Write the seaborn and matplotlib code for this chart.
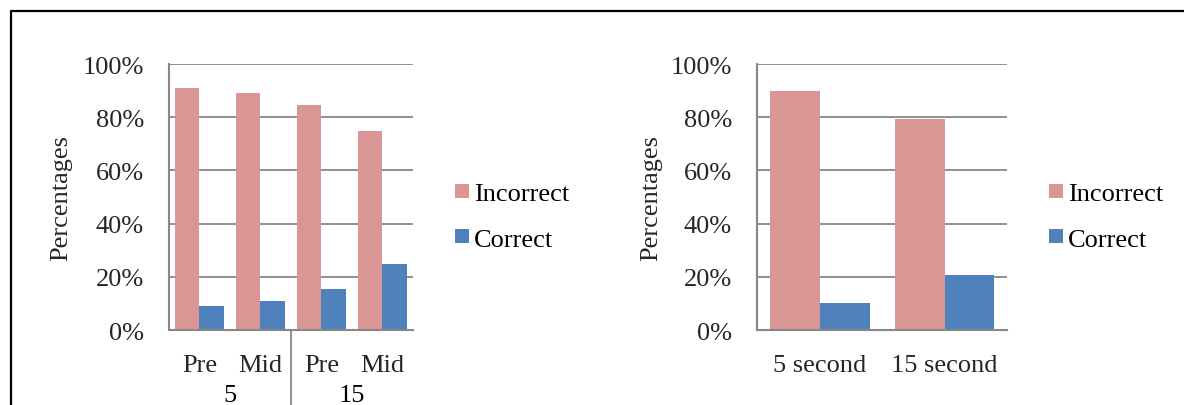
import matplotlib
matplotlib.use("Agg")
import matplotlib.pyplot as plt
import matplotlib.transforms as mtransforms
from matplotlib.lines import Line2D
from matplotlib.ticker import FuncFormatter
import pandas as pd
import seaborn as sns

# Answers by test phase, grouped by presentation time (seconds)
phase_groups = ["5", "5", "15", "15"]
phases = ["Pre", "Mid", "Pre", "Mid"]
phase_incorrect = [91.1, 89.1, 84.5, 75.0]
phase_correct = [8.9, 10.9, 15.5, 25.0]

# Answers by presentation interval
intervals = ["5 second", "15 second"]
interval_incorrect = [90.0, 79.5]
interval_correct = [10.0, 20.5]

answer_labels = ["Incorrect", "Correct"]
answer_colors = {"Incorrect": "#D99694", "Correct": "#4F81BD"}
y_ticks = [0, 20, 40, 60, 80, 100]

AXIS_GREY = "#878787"
FS = 19

sns.set_style("white")
plt.rcParams["font.family"] = ["Liberation Serif", "DejaVu Serif"]
plt.rcParams["text.color"] = "black"

phase_keys = [f"{g}|{p}" for g, p in zip(phase_groups, phases)]
df_phase = pd.DataFrame({
    "slot": phase_keys * 2,
    "Answer": ["Incorrect"] * len(phase_keys) + ["Correct"] * len(phase_keys),
    "pct": phase_incorrect + phase_correct,
})
df_interval = pd.DataFrame({
    "slot": intervals * 2,
    "Answer": ["Incorrect"] * len(intervals) + ["Correct"] * len(intervals),
    "pct": interval_incorrect + interval_correct,
})

fig = plt.figure(figsize=(11.84, 4.06), dpi=100)
ax1 = fig.add_axes([0.1427, 0.1847, 0.2061, 0.6552])
ax2 = fig.add_axes([0.6394, 0.1847, 0.2111, 0.6552])


def draw_panel(ax, df, order, tick_labels, label_x, legend_x):
    sns.barplot(data=df, x="slot", y="pct", hue="Answer", order=order,
                hue_order=answer_labels, palette=answer_colors, width=0.8,
                saturation=1, linewidth=0, errorbar=None, ax=ax)
    n = len(order)
    ax.set_xlim(-0.5, n - 0.5)
    ax.set_ylim(0, 100)
    ax.set_yticks(y_ticks)
    ax.yaxis.set_major_formatter(FuncFormatter(lambda v, _: f"{v:.0f}%"))
    ax.set_xticks(range(n))
    ax.set_xticklabels(tick_labels)
    ax.set_xticks([i - 0.5 for i in range(n + 1)], minor=True)
    ax.tick_params(axis="x", which="major", length=0, pad=17, labelsize=FS)
    ax.tick_params(axis="x", which="minor", length=8, width=1.3,
                   color=AXIS_GREY, direction="out")
    ax.tick_params(axis="y", length=8, width=1.3, color=AXIS_GREY,
                   direction="out", pad=10, labelsize=FS)
    ax.set_xlabel("")
    ax.set_ylabel("Percentages", fontsize=FS)
    ax.yaxis.set_label_coords(label_x, 0.5)
    ax.yaxis.grid(True, color=AXIS_GREY, linewidth=1.3)
    ax.set_axisbelow(True)
    for side in ("top", "right"):
        ax.spines[side].set_visible(False)
    for side in ("left", "bottom"):
        ax.spines[side].set_color(AXIS_GREY)
        ax.spines[side].set_linewidth(1.5)
    handles, labels = ax.get_legend_handles_labels()
    ax.legend(handles, labels, loc="center left",
              bbox_to_anchor=(legend_x, 0.425), frameon=False, fontsize=FS,
              borderpad=0, borderaxespad=0, handlelength=0.53,
              handleheight=0.45, handletextpad=0.2, labelspacing=0.89)


draw_panel(ax1, df_phase, phase_keys, phases, -0.398, 1.172)
draw_panel(ax2, df_interval, intervals, intervals, -0.38, 1.168)

# Second tier of category labels: presentation time groups
blend = mtransforms.blended_transform_factory(ax1.transData, ax1.transAxes)
group_names = list(dict.fromkeys(phase_groups))
for gi, name in enumerate(group_names):
    idx = [i for i, g in enumerate(phase_groups) if g == name]
    center = (idx[0] + idx[-1]) / 2
    ax1.text(center, -0.245, name, transform=blend, ha="center", va="center",
             fontsize=FS)
    if gi > 0:
        sep = idx[0] - 0.5
        ax1.plot([sep, sep], [0, -0.35], transform=blend, color=AXIS_GREY,
                 linewidth=1.3, clip_on=False)

# Frame around the figure (top and left edges)
W, H = 1184, 406
fig.add_artist(Line2D([1.0, 10.5 / W, 10.5 / W],
                      [1 - 11.5 / H, 1 - 11.5 / H, 0.0],
                      transform=fig.transFigure, color="black",
                      linewidth=1.6))

fig.savefig("out.png", dpi=100)
